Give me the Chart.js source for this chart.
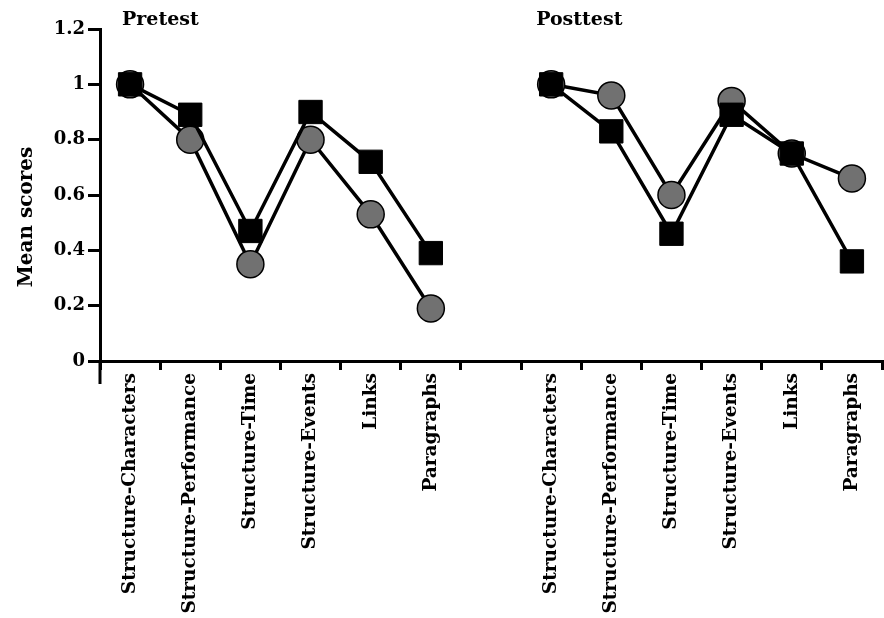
<!DOCTYPE html>
<html>
<head>
<meta charset="utf-8">
<script src="https://cdn.jsdelivr.net/npm/chart.js@4/dist/chart.umd.min.js"></script>
<style>
  html, body { margin: 0; padding: 0; background: #ffffff; }
  #wrap { width: 884px; height: 618px; position: relative; }
</style>
</head>
<body>
<div id="wrap"><canvas id="c" width="884" height="618"></canvas></div>
<script>
// ---- data ----
const categories = ['Structure-Characters', 'Structure-Performance', 'Structure-Time', 'Structure-Events', 'Links', 'Paragraphs'];
const panelTitles = ['Pretest', 'Posttest'];
const squarePretest  = [1.00, 0.89, 0.47, 0.90, 0.72, 0.39];
const squarePosttest = [1.00, 0.83, 0.46, 0.89, 0.75, 0.36];
const circlePretest  = [1.00, 0.80, 0.35, 0.80, 0.53, 0.19];
const circlePosttest = [1.00, 0.96, 0.60, 0.94, 0.75, 0.66];
const yTickLabels = ['0', '0.2', '0.4', '0.6', '0.8', '1', '1.2'];
const yAxisTitle = 'Mean scores';

// combined category axis: pretest block, empty gap, posttest block
const labels = [...categories, '', ...categories];
const squareData = [...squarePretest, null, ...squarePosttest];
const circleData = [...circlePretest, null, ...circlePosttest];

const FONT = '"DejaVu Serif", serif';

const decorPlugin = {
  id: 'decor',
  afterDraw(chart) {
    const ctx = chart.ctx;
    const xs = chart.scales.x;
    const area = chart.chartArea;
    ctx.save();
    // y axis continues a little below the x axis
    ctx.strokeStyle = '#000';
    ctx.lineWidth = 3;
    ctx.beginPath();
    ctx.moveTo(area.left, area.bottom);
    ctx.lineTo(area.left, area.bottom + 23);
    ctx.stroke();
    // panel titles
    ctx.fillStyle = '#000';
    ctx.font = 'bold 19px ' + FONT;
    ctx.textAlign = 'left';
    ctx.textBaseline = 'middle';
    ctx.fillText(panelTitles[0], xs.getPixelForValue(0) - 8, 20);
    ctx.fillText(panelTitles[1], xs.getPixelForValue(categories.length + 1) - 15, 20);
    // y axis title
    ctx.translate(27, 217);
    ctx.rotate(-Math.PI / 2);
    ctx.textAlign = 'center';
    ctx.textBaseline = 'middle';
    ctx.font = 'bold 20px ' + FONT;
    ctx.fillText(yAxisTitle, 0, 0);
    ctx.restore();
  }
};

new Chart(document.getElementById('c'), {
  type: 'line',
  data: {
    labels: labels,
    datasets: [
      {
        label: 'Squares',
        data: squareData,
        borderColor: '#000',
        borderWidth: 3.5,
        pointStyle: 'rect',
        pointRadius: 16.5,
        pointHoverRadius: 16.5,
        pointBackgroundColor: '#000',
        pointBorderColor: '#000',
        pointBorderWidth: 1,
        spanGaps: false,
        tension: 0
      },
      {
        label: 'Circles',
        data: circleData,
        borderColor: '#000',
        borderWidth: 3.5,
        pointStyle: 'circle',
        pointRadius: 13.5,
        pointHoverRadius: 13.5,
        pointBackgroundColor: '#717171',
        pointBorderColor: '#000',
        pointBorderWidth: 1.5,
        spanGaps: false,
        tension: 0
      }
    ]
  },
  plugins: [decorPlugin],
  options: {
    responsive: false,
    animation: false,
    events: [],
    layout: { autoPadding: false, padding: { top: 29, right: 2, left: 0, bottom: 0 } },
    plugins: {
      legend: { display: false },
      tooltip: { enabled: false },
      title: { display: false }
    },
    scales: {
      x: {
        type: 'category',
        offset: true,
        border: { display: true, color: '#000', width: 3 },
        grid: {
          display: true,
          offset: true,
          drawOnChartArea: false,
          drawTicks: true,
          tickLength: 9,
          color: '#000',
          lineWidth: 3
        },
        ticks: {
          autoSkip: false,
          minRotation: 90,
          maxRotation: 90,
          padding: 3,
          color: '#000',
          font: { family: FONT, size: 18.5, weight: 'bold' }
        },
        afterFit(scale) {
          scale.height = 257;
          scale.paddingLeft = 0;
          scale.paddingRight = 0;
        }
      },
      y: {
        min: 0,
        max: 1.2,
        border: { display: true, color: '#000', width: 3 },
        grid: {
          display: true,
          drawOnChartArea: false,
          drawTicks: true,
          tickLength: 12,
          color: '#000',
          lineWidth: 3
        },
        ticks: {
          stepSize: 0.2,
          padding: 3,
          color: '#000',
          font: { family: FONT, size: 18, weight: 'bold' },
          callback: function(value, index) { return yTickLabels[index]; }
        },
        afterFit(scale) { scale.width = 100; }
      }
    }
  }
});
</script>
</body>
</html>
